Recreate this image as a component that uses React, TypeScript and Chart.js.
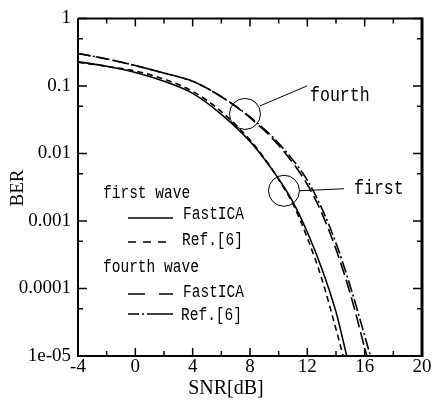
import { useEffect, useRef } from "react";
import { Chart, registerables } from "chart.js";

Chart.register(...registerables);

// ---- data ----
const snrFirstFastICA = [-4, -2, 0, 2, 4, 6, 8, 9, 10, 11, 12, 13, 14, 14.75];
const berFirstFastICA = [0.229, 0.195, 0.158, 0.117, 0.0776, 0.038, 0.0151, 0.0083, 0.0042, 0.0019, 0.00068, 0.0002, 0.000045, 0.00001];

const snrFirstRef = [-4, -2, 0, 2, 4, 6, 8, 9, 10, 11, 12, 13, 14, 14.5];
const berFirstRef = [0.224, 0.195, 0.166, 0.126, 0.083, 0.0417, 0.0158, 0.0085, 0.0041, 0.00178, 0.00056, 0.000141, 0.000025, 0.00001];

const snrFourthFastICA = [-4, -2, 0, 2, 4, 6, 8, 10, 12, 13, 14, 15, 16, 16.15];
const berFourthFastICA = [0.302, 0.251, 0.2, 0.155, 0.117, 0.0692, 0.0339, 0.0132, 0.00347, 0.00132, 0.00038, 0.000083, 0.0000132, 0.00001];

const snrFourthRef = [-4, -2, 0, 2, 4, 6, 8, 10, 12, 13, 14, 15, 16, 16.4];
const berFourthRef = [0.302, 0.251, 0.2, 0.155, 0.117, 0.0692, 0.0347, 0.0141, 0.004, 0.00155, 0.00047, 0.000107, 0.00002, 0.00001];

const xMajorTicks = [-4, 0, 4, 8, 12, 16, 20];
const xMinorTicks = [-2, 2, 6, 10, 14, 18];
const yMajorTicks = [0.00001, 0.0001, 0.001, 0.01, 0.1, 1];
const yTickLabels = ["1e-05", "0.0001", "0.001", "0.01", "0.1", "1"];
const yMinorTicks = [0.00005, 0.0005, 0.005, 0.05, 0.5];

const xTitle = "SNR[dB]";
const yTitle = "BER";
const legendGroups = ["first wave", "fourth wave"];
const seriesNames = ["FastICA", "Ref.[6]", "FastICA", "Ref.[6]"];

const annotationLabels = ["fourth", "first"];
const annotationSnr = [7.65, 10.37];
const annotationBer = [0.0385, 0.0028];

const toPts = (xs: number[], ys: number[]) => xs.map((x, i) => ({ x, y: ys[i] }));

const dashes: number[][] = [[], [6, 4], [13, 5], [12, 3, 2, 3]];
const legendDashes: number[][] = [[], [8, 7], [17, 14], [11, 3, 2, 3, 40]];

function condText(ctx: CanvasRenderingContext2D, text: string, x: number, y: number, sx: number) {
  ctx.save();
  ctx.translate(x, y);
  ctx.scale(sx, 1);
  ctx.fillText(text, 0, 0);
  ctx.restore();
}

const decorPlugin = {
  id: "decor",
  afterDraw(chart: any) {
    const ctx: CanvasRenderingContext2D = chart.ctx;
    const { left, right, top, bottom } = chart.chartArea;
    const xs = chart.scales.x;
    const ys = chart.scales.y;
    ctx.save();
    ctx.strokeStyle = "#000";
    ctx.fillStyle = "#000";
    ctx.setLineDash([]);

    // frame
    ctx.lineWidth = 2;
    ctx.beginPath();
    ctx.moveTo(left, top);
    ctx.lineTo(right, top);
    ctx.moveTo(left, top);
    ctx.lineTo(left, bottom);
    ctx.lineTo(right, bottom);
    ctx.stroke();
    ctx.lineWidth = 3;
    ctx.beginPath();
    ctx.moveTo(right, top - 1);
    ctx.lineTo(right, bottom + 1);
    ctx.stroke();

    // inward ticks
    ctx.lineWidth = 1.5;
    ctx.beginPath();
    const xt = (v: number, len: number) => {
      const p = xs.getPixelForValue(v);
      ctx.moveTo(p, bottom);
      ctx.lineTo(p, bottom - len);
      ctx.moveTo(p, top);
      ctx.lineTo(p, top + len);
    };
    const yt = (v: number, len: number) => {
      const p = ys.getPixelForValue(v);
      ctx.moveTo(left, p);
      ctx.lineTo(left + len, p);
      ctx.moveTo(right, p);
      ctx.lineTo(right - len, p);
    };
    xMajorTicks.forEach((v) => xt(v, 8));
    xMinorTicks.forEach((v) => xt(v, 5));
    yMajorTicks.forEach((v) => yt(v, 9));
    yMinorTicks.forEach((v) => yt(v, 5));
    ctx.stroke();

    // axis titles
    ctx.font = "20px 'Liberation Serif'";
    ctx.textAlign = "center";
    ctx.textBaseline = "middle";
    ctx.fillText(xTitle, 226, 389);
    ctx.save();
    ctx.translate(18, 188);
    ctx.rotate(-Math.PI / 2);
    ctx.font = "19px 'Liberation Serif'";
    ctx.fillText(yTitle, 0, 0);
    ctx.restore();

    // legend
    ctx.textAlign = "left";
    ctx.textBaseline = "alphabetic";
    ctx.font = "17.5px 'Liberation Mono'";
    const headBase = [198, 272];
    legendGroups.forEach((g, i) => condText(ctx, g, 103, headBase[i], 0.83));
    const lineY = [218, 242, 294, 314];
    const textBase = [219, 245, 297, 320];
    const textX = [183, 182, 183, 181];
    chart.data.datasets.forEach((_ds: any, i: number) => {
      ctx.save();
      ctx.lineWidth = 1.6;
      ctx.setLineDash(legendDashes[i]);
      ctx.beginPath();
      ctx.moveTo(128, lineY[i]);
      ctx.lineTo(173, lineY[i]);
      ctx.stroke();
      ctx.restore();
      condText(ctx, seriesNames[i], textX[i], textBase[i], 0.83);
    });

    // annotations (circles + leaders + labels)
    const leadStart = [[15, -8], [15, 0]];
    const leadEnd = [[62, -28], [60, -2]];
    const labelOff = [[65, -13], [70, 3]];
    ctx.font = "20px 'Liberation Mono'";
    ctx.lineWidth = 1;
    annotationLabels.forEach((lab, i) => {
      const cx = xs.getPixelForValue(annotationSnr[i]);
      const cy = ys.getPixelForValue(annotationBer[i]);
      ctx.beginPath();
      ctx.arc(cx, cy, 15.5, 0, Math.PI * 2);
      ctx.stroke();
      ctx.beginPath();
      ctx.moveTo(cx + leadStart[i][0], cy + leadStart[i][1]);
      ctx.lineTo(cx + leadEnd[i][0], cy + leadEnd[i][1]);
      ctx.stroke();
      condText(ctx, lab, cx + labelOff[i][0], cy + labelOff[i][1], 0.83);
    });
    ctx.restore();
  },
};

export default function App() {
  const ref = useRef<HTMLCanvasElement | null>(null);
  useEffect(() => {
    if (!ref.current) return;
    const mk = (xs: number[], ys: number[], i: number) => ({
      label: seriesNames[i],
      data: toPts(xs, ys),
      borderColor: "#000",
      backgroundColor: "#000",
      borderWidth: 1.6,
      borderDash: dashes[i],
      pointRadius: 0,
      fill: false,
      cubicInterpolationMode: "monotone" as const,
    });
    const chart = new Chart(ref.current, {
      type: "line",
      data: {
        datasets: [
          mk(snrFirstFastICA, berFirstFastICA, 0),
          mk(snrFirstRef, berFirstRef, 1),
          mk(snrFourthFastICA, berFourthFastICA, 2),
          mk(snrFourthRef, berFourthRef, 3),
        ],
      },
      options: {
        animation: false,
        responsive: false,
        devicePixelRatio: 1,
        layout: { padding: { left: 0, top: 13, right: 10, bottom: 0 } },
        plugins: { legend: { display: false }, tooltip: { enabled: false } },
        scales: {
          x: {
            type: "linear",
            min: -4,
            max: 20,
            grid: { display: false, drawTicks: false, tickLength: 0 },
            border: { display: false },
            ticks: {
              stepSize: 4,
              color: "#000",
              font: { family: "'Liberation Serif'", size: 19 },
              padding: 0,
              maxRotation: 0,
              autoSkip: false,
            },
            afterFit: (s: any) => {
              s.height = 49;
            },
          },
          y: {
            type: "logarithmic",
            min: 0.00001,
            max: 1,
            grid: { display: false, drawTicks: false, tickLength: 0 },
            border: { display: false },
            afterBuildTicks: (s: any) => {
              s.ticks = yMajorTicks.map((v) => ({ value: v }));
            },
            ticks: {
              color: "#000",
              font: { family: "'Liberation Serif'", size: 19 },
              padding: 7,
              autoSkip: false,
              callback: (v: any) => {
                const idx = yMajorTicks.findIndex((t) => Math.abs(Math.log10(t) - Math.log10(Number(v))) < 1e-6);
                return idx >= 0 ? yTickLabels[idx] : "";
              },
            },
            afterFit: (s: any) => {
              s.width = 78;
            },
          },
        },
      },
      plugins: [decorPlugin],
    });
    return () => chart.destroy();
  }, []);
  return (
    <div style={{ position: "absolute", left: 0, top: 0, width: 432, height: 405, background: "#fff" }}>
      <canvas ref={ref} width={432} height={405} style={{ display: "block" }} />
    </div>
  );
}
